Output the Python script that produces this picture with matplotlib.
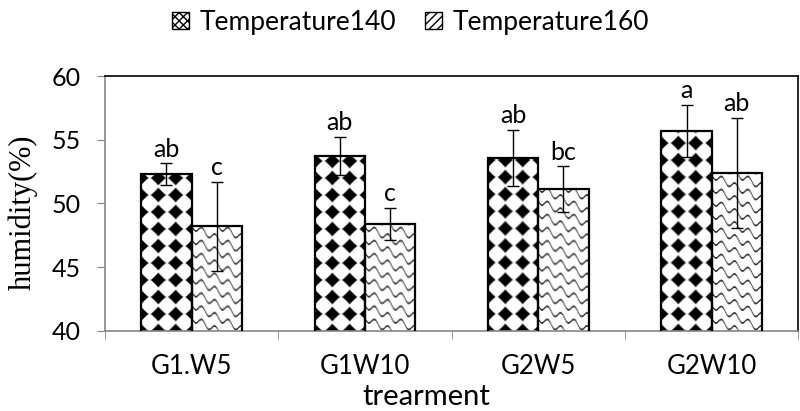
import numpy as np
import matplotlib
matplotlib.use("Agg")
import matplotlib.pyplot as plt
from matplotlib.patches import Patch

# data
kategorie = ["G1.W5", "G1W10", "G2W5", "G2W10"]
teplota140 = [52.3, 53.7, 53.6, 55.7]
teplota160 = [48.2, 48.4, 51.1, 52.4]
chyba140 = [0.85, 1.5, 2.2, 2.05]
chyba160 = [3.5, 1.25, 1.8, 4.3]
pismena140 = ["ab", "ab", "ab", "a"]
pismena160 = ["c", "c", "bc", "ab"]


def vzor_kosoctverce(w, h, perioda=17.0, r=7.4):
    # black diamonds on white, half diamonds on the bar edges
    x = np.arange(w) + 0.5
    y = np.arange(h) + 0.5
    X, Y = np.meshgrid(x, y)
    dx = np.abs(((X + perioda / 2) % perioda) - perioda / 2)
    dy = np.abs(((Y + perioda / 2) % perioda) - perioda / 2)
    d = dx + dy + 0.02 * (dx * dy)  # trochu zaoblene rohy
    hodnota = np.clip((d - r) / 1.8 + 0.5, 0, 1)
    return np.dstack([hodnota, hodnota, hodnota])


def vzor_sindel(w, h, perioda=13.0):
    # wavy diagonal strokes, similar to the excel "shingle" fill
    x = np.arange(w) + 0.5
    y = np.arange(h) + 0.5
    X, Y = np.meshgrid(x, y)
    u = (Y + 0.5 * X + 3.2 * np.sin(2 * np.pi * X / 13.0)) % perioda
    d = np.minimum(u, perioda - u)
    hodnota = np.clip((d - 0.5) / 0.9, 0, 1)
    hodnota = 0.2 + 0.8 * hodnota
    return np.dstack([hodnota, hodnota, hodnota])


plt.rcParams["font.family"] = ["Lato", "DejaVu Sans"]

fig = plt.figure(figsize=(8, 4.11), dpi=100)
ax = fig.add_axes([0.131, 0.195, 0.867, 0.62])

x = np.arange(len(kategorie))
sirka = 0.29

ax.set_xlim(-0.5, len(kategorie) - 0.5)
ax.set_ylim(40, 60)

sloupce140 = ax.bar(x - sirka / 2, teplota140, sirka, facecolor="none",
                    edgecolor="black", linewidth=1.6, zorder=3)
sloupce160 = ax.bar(x + sirka / 2, teplota160, sirka, facecolor="none",
                    edgecolor="black", linewidth=1.6, zorder=3)

# fill every bar with its pattern image
for sloupce, vzor in [(sloupce140, vzor_kosoctverce), (sloupce160, vzor_sindel)]:
    for b in sloupce:
        x0, y0 = b.get_x(), 40
        x1, y1 = b.get_x() + b.get_width(), b.get_height()
        p0 = ax.transData.transform((x0, y0))
        p1 = ax.transData.transform((x1, y1))
        w = int(round(abs(p1[0] - p0[0])))
        h = int(round(abs(p1[1] - p0[1])))
        ax.imshow(vzor(w, h), extent=(x0, x1, y0, y1), origin="lower",
                  aspect="auto", interpolation="bilinear", zorder=2)

ax.set_xlim(-0.5, len(kategorie) - 0.5)
ax.set_ylim(40, 60)

ax.errorbar(x - sirka / 2, teplota140, yerr=chyba140, fmt="none",
            ecolor="black", elinewidth=1, capsize=4.5, capthick=1, zorder=4)
ax.errorbar(x + sirka / 2, teplota160, yerr=chyba160, fmt="none",
            ecolor="black", elinewidth=1, capsize=4.5, capthick=1, zorder=4)

for i in range(len(kategorie)):
    ax.annotate(pismena140[i], (x[i] - sirka / 2, teplota140[i] + chyba140[i]),
                xytext=(0, 2), textcoords="offset points", ha="center",
                va="bottom", fontsize=18)
    ax.annotate(pismena160[i], (x[i] + sirka / 2, teplota160[i] + chyba160[i]),
                xytext=(0, 2), textcoords="offset points", ha="center",
                va="bottom", fontsize=18)

ax.set_yticks([40, 45, 50, 55, 60])
ax.tick_params(axis="y", labelsize=18, length=5.5, color="#868686",
               direction="out", pad=12)
ax.set_xticks(x)
ax.set_xticklabels(kategorie, fontsize=18.5)
ax.tick_params(axis="x", length=0, pad=17)
ax.set_xticks(np.arange(len(kategorie) + 1) - 0.5, minor=True)
ax.tick_params(axis="x", which="minor", length=5.5, color="#868686")

for s in ["left", "bottom"]:
    ax.spines[s].set_color("#868686")
    ax.spines[s].set_linewidth(1.2)
for s in ["top", "right"]:
    ax.spines[s].set_color("black")
    ax.spines[s].set_linewidth(1.2)

ax.set_ylabel("humidity(%)", family="Liberation Serif", fontsize=22)
ax.yaxis.set_label_coords(-0.097, 0.467)
ax.set_xlabel("trearment", fontsize=21)
ax.xaxis.set_label_coords(0.463, -0.207)

znacky = [Patch(facecolor="white", edgecolor="black", hatch="XXXX"),
          Patch(facecolor="white", edgecolor="black", hatch="////")]
fig.legend(znacky, ["Temperature140", "Temperature160"], loc="center",
           bbox_to_anchor=(0.513, 0.946), ncol=2, frameon=False, fontsize=19,
           handlelength=0.65, handleheight=0.65, handletextpad=0.4,
           columnspacing=1.1)

plt.savefig("out.png", dpi=100)
plt.close()
